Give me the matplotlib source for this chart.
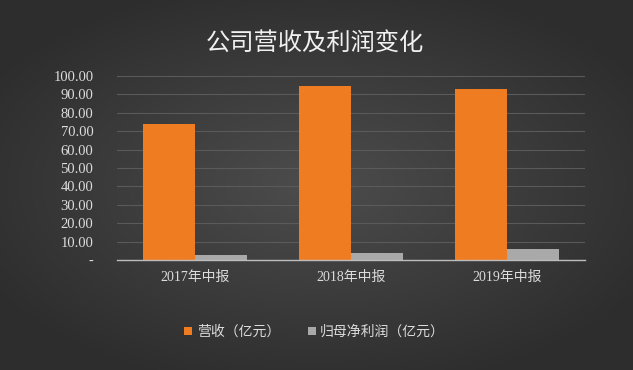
"""Company revenue and net profit by half-year report, dark theme bar chart."""

import matplotlib.pyplot as plt
import numpy as np

categories = ["2017年中报", "2018年中报", "2019年中报"]
revenue = [73.7, 94.6, 93.0]
net_profit = [2.5, 4.0, 5.8]
series_names = ["营收（亿元）", "归母净利润（亿元）"]
y_ticks = [0, 10, 20, 30, 40, 50, 60, 70, 80, 90, 100]

plt.rcParams["font.family"] = ["Noto Sans CJK SC", "DejaVu Sans"]

fig = plt.figure(figsize=(6.33, 3.70), dpi=100)

# dark background, a bit lighter in the middle
bg = fig.add_axes([0, 0, 1, 1], zorder=-10)
gx, gy = np.meshgrid(np.linspace(-1, 1, 300), np.linspace(-1, 1, 200))
glow = np.clip(1 - np.sqrt((gx * 0.85) ** 2 + (gy * 0.9) ** 2), 0, 1)
shade = 0.18 + 0.12 * glow
bg.imshow(np.dstack([shade, shade, shade]), aspect="auto", extent=[0, 1, 0, 1])
bg.set_axis_off()

ax = fig.add_axes([117 / 633, 1 - 260 / 370, (585 - 117) / 633, (260 - 76) / 370])
ax.set_facecolor("none")

x = np.arange(len(categories))
w = 1 / 3
ax.bar(x - w / 2, revenue, width=w, color="#f07c22", zorder=3, label=series_names[0])
ax.bar(x + w / 2, net_profit, width=w, color="#a9a9a9", zorder=3, label=series_names[1])

ax.set_xlim(-0.5, 2.5)
ax.set_ylim(0, 100)
ax.set_yticks(y_ticks)
ax.set_yticklabels(["-" if v == 0 else f"{v:.2f}" for v in y_ticks],
                   family=["Liberation Serif", "Noto Sans CJK SC"], fontsize=10.5, color="#dcdcdc")
ax.tick_params(axis="y", length=0, pad=17)
ax.set_xticks(x)
ax.set_xticklabels(categories, family=["Liberation Serif", "Noto Sans CJK SC"],
                   fontsize=10, color="#dcdcdc")
ax.tick_params(axis="x", length=0, pad=8)
ax.grid(axis="y", color="#5a5a5a", linewidth=0.8, zorder=0)
for s in ["top", "right", "left"]:
    ax.spines[s].set_visible(False)
ax.spines["bottom"].set_color("#bdbdbd")
ax.spines["bottom"].set_linewidth(1.0)
ax.spines["bottom"].set_zorder(4)

fig.text(0.498, 0.885, "公司营收及利润变化", ha="center", va="center",
         fontsize=17.5, color="#f0f0f0")

fig.legend(loc="center", bbox_to_anchor=(0.497, 0.103), ncol=2, frameon=False,
           fontsize=10, labelcolor="#dcdcdc", handlelength=0.6, handleheight=0.6,
           handletextpad=0.3, columnspacing=2.0)

fig.savefig("out.png", dpi=100)
